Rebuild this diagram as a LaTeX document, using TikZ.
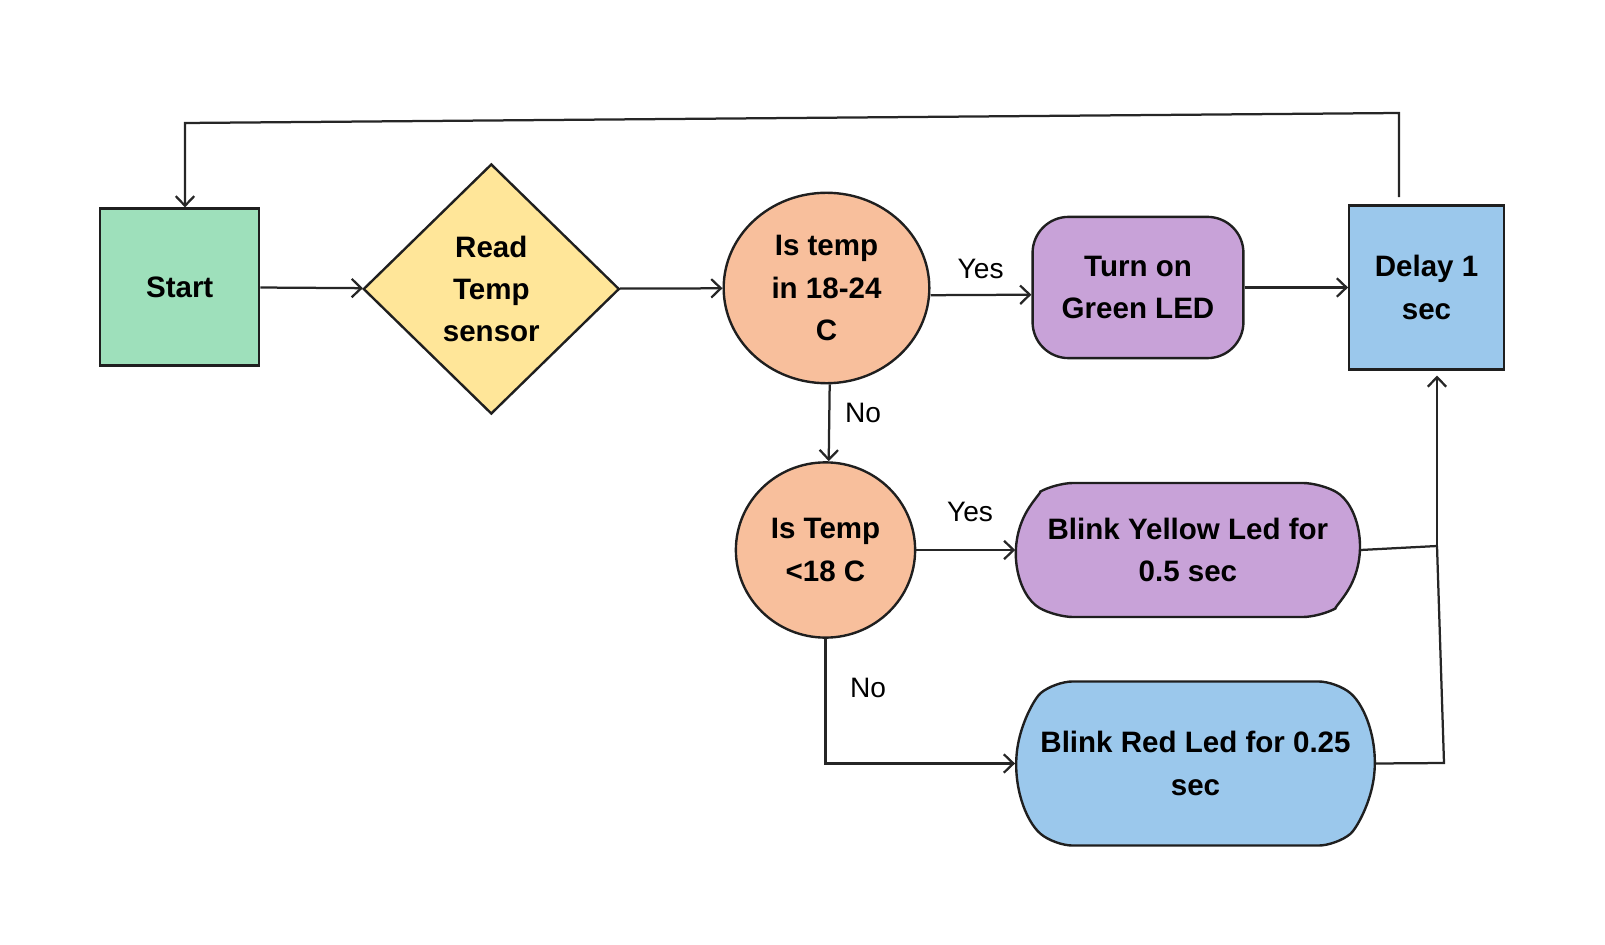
\documentclass[tikz,border=0pt]{standalone}
\usepackage{fontspec}
\setmainfont{Liberation Sans}
\usetikzlibrary{shapes.geometric,shapes.misc,arrows.meta}

\definecolor{startgreen}{RGB}{158,224,187}
\definecolor{readyellow}{RGB}{255,230,153}
\definecolor{testsalmon}{RGB}{248,191,156}
\definecolor{ledpurple}{RGB}{200,162,216}
\definecolor{ledblue}{RGB}{155,200,236}

\begin{document}
\begin{tikzpicture}[
    x = 0.025cm, y = -0.025cm,
    every node/.style={ draw=black!88, line width=1.7pt, align=center,
      inner sep=0pt, font=\fontsize{21}{30}\selectfont\bfseries },
    lbl/.style={draw=none, font=\fontsize{20}{24}\selectfont},
    test/.style={ellipse, fill=testsalmon},
    pill/.style={rounded rectangle, rounded corners=0.45cm},
    arr/.style={-{Straight Barb[length=2.4mm,width=4.6mm]}, line width=1.6pt, draw=black!85},
    wire/.style={line width=1.6pt, draw=black!85}
    ]
  \useasboundingbox (0,0) rectangle (1605,945);
  \node (start) [rectangle, fill=startgreen, minimum width=3.97cm, minimum height=3.92cm] at (179.7,287) {Start};
  \node (read) [diamond, fill=readyellow, minimum width=6.4cm, minimum height=6.25cm] at (491.3,289) {Read\\Temp\\sensor};
  \node (inrange) [test, minimum width=5.14cm, minimum height=4.76cm] at (826.5,288) {Is temp\\in 18-24\\C};
  \node (green) [rectangle, rounded corners=0.9cm, fill=ledpurple, minimum width=5.27cm, minimum height=3.53cm] at (1138,287.5) {Turn on\\Green LED};
  \node (delay) [rectangle, fill=ledblue, minimum width=3.86cm, minimum height=4.1cm] at (1426.5,287.5) {Delay 1\\sec};
  \node (below) [test, minimum width=4.48cm, minimum height=4.38cm] at (825.5,550) {Is Temp\\<18 C};
  \node (yellow) [pill, rounded rectangle arc length=120, fill=ledpurple, minimum width=8.57cm, minimum height=3.35cm] at (1187.9,550) {Blink Yellow Led for\\0.5 sec};
  \node (red) [pill, rounded rectangle arc length=100, fill=ledblue, minimum width=8.96cm, minimum height=4.1cm] at (1195.5,763.5) {Blink Red Led for 0.25\\sec};
  \node (yes1) [lbl] at (980.6,269.2) {Yes};
  \node (no1) [lbl] at (863,412.5) {No};
  \node (yes2) [lbl] at (970,512) {Yes};
  \node (no2) [lbl] at (868,688) {No};
  \coordinate (loopr) at (1399,113);
  \coordinate (loopl) at (185,123);
  \coordinate (joiny) at (1437,546);
  \coordinate (joinr) at (1444,763);
\draw[arr] ([xshift=-0.69cm, yshift=0.18cm]delay.north) -- (loopr) -- (loopl) -- (loopl |- start.north);
\draw[arr] (start) -- (read);
\draw[arr] (read) -- (inrange);
\draw[arr] ([yshift=-0.18cm]inrange.east) -- ([yshift=-0.18cm]green.west);
\draw[arr] (green) -- (delay);
\draw[arr] ([xshift=0.08cm]inrange.south) -- ([xshift=0.08cm]below.north);
\draw[arr] (below) -- (yellow);
\draw[arr] (below.south) |- (red.west);
\draw[wire] (yellow.east) -- (joiny);
\draw[wire] (red.east) -- (joinr) -- (joiny);
\draw[arr, shorten >=0.12cm] (joiny) -- (joiny |- delay.south);
  \end{tikzpicture}
\end{document}
